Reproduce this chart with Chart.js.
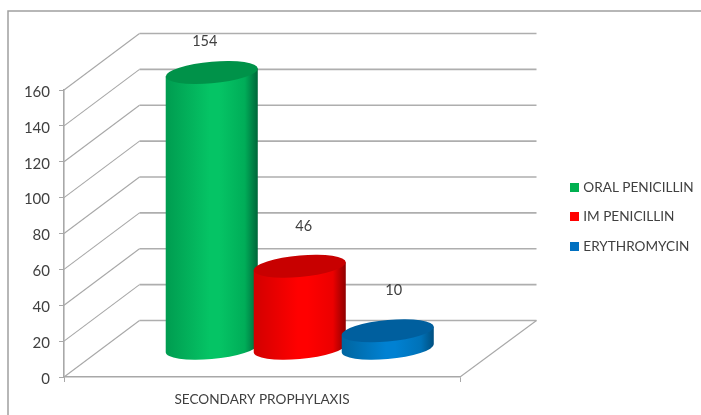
<!DOCTYPE html>
<html>
<head>
<meta charset="utf-8">
<style>html,body{margin:0;padding:0;background:#fff}#w{width:701px;height:415px}</style>
<script src="https://cdn.jsdelivr.net/npm/chart.js@4"></script>
</head>
<body>
<div id="w"><canvas id="c"></canvas></div>
<script>
const categories = ["SECONDARY PROPHYLAXIS"];
const seriesNames = ["ORAL PENICILLIN", "IM PENICILLIN", "ERYTHROMYCIN"];
const oralPenicillin = [154];
const imPenicillin = [46];
const erythromycin = [10];
const yTicks = [0, 20, 40, 60, 80, 100, 120, 140, 160];

const FONT = 'Lato';
const TEXT = '#404040';
const GRID = '#a8a8a8';
const DEPTH = {x: 75.5, y: 56.5};
const looks = [
  {base:'#00b050', top:'#009249', stops:['#009c50','#05c465','#00ad58','#00663a']},
  {base:'#ff0000', top:'#c80000', stops:['#d20000','#ff0000','#ec0000','#8f0000']},
  {base:'#0070c0', top:'#005f9e', stops:['#00659f','#0081d2','#0072b8','#004f80']}
];
const labelNudge = [{x:-7,y:1},{x:4,y:0},{x:6,y:0}];

function swatch(color){
  const s = document.createElement('canvas');
  s.width = 9; s.height = 9;
  const g = s.getContext('2d');
  g.fillStyle = color; g.fillRect(0,0,9,9);
  return s;
}

const threeD = {
  id:'threeD',
  beforeDraw(chart){
    const c = chart.ctx;
    c.save();
    c.fillStyle='#fff'; c.fillRect(0,0,chart.width,chart.height);
    c.strokeStyle='#a0a0a0'; c.lineWidth=1.5;
    c.beginPath(); c.moveTo(8,chart.height); c.lineTo(8,11); c.lineTo(chart.width,11); c.stroke();
    c.restore();
  },
  afterLayout(chart){
    const l = chart.legend;
    l.left=556.5; l.right=701; l.top=164.5; l.bottom=290;
  },
  beforeDatasetsDraw(chart){
    const c = chart.ctx, y = chart.scales.y, x = chart.scales.x;
    c.save();
    yTicks.forEach(v=>{
      const py = y.getPixelForValue(v);
      c.strokeStyle=GRID; c.lineWidth=1.1;
      c.beginPath(); c.moveTo(x.left,py); c.lineTo(x.left+DEPTH.x,py-DEPTH.y); c.stroke();
      c.lineWidth=1.6; c.strokeStyle='#aeaeae';
      c.beginPath(); c.moveTo(x.left+DEPTH.x,py-DEPTH.y); c.lineTo(x.right+DEPTH.x+1,py-DEPTH.y); c.stroke();
    });
    const p0 = y.getPixelForValue(0);
    c.strokeStyle=GRID; c.lineWidth=1.1;
    c.beginPath(); c.moveTo(x.right,p0); c.lineTo(x.right+DEPTH.x+1,p0-DEPTH.y); c.stroke();
    c.restore();
  },
  beforeDatasetDraw(){ return false; },
  afterDatasetsDraw(chart){
    const c = chart.ctx;
    const tilt = -4;
    chart.data.datasets.forEach((ds,i)=>{
      chart.getDatasetMeta(i).data.forEach(bar=>{
        const a = bar.width*0.523, b = 10.8, k = tilt/46;
        const cx = bar.x + DEPTH.x/2;
        const top = bar.y - DEPTH.y/2, bot = bar.base - DEPTH.y/2;
        const lk = looks[i];
        const g = c.createLinearGradient(cx-a,0,cx+a,0);
        g.addColorStop(0,lk.stops[0]); g.addColorStop(0.48,lk.stops[1]); g.addColorStop(0.58,lk.stops[1]);
        g.addColorStop(0.86,lk.stops[2]); g.addColorStop(1,lk.stops[3]);
        c.save();
        c.beginPath();
        c.save();
        c.translate(cx,bot); c.transform(1,k,0,1,0,0);
        c.ellipse(0,0,a,b,0,0,Math.PI);
        c.restore();
        c.lineTo(cx-a,top-k*a);
        c.lineTo(cx+a,top+k*a);
        c.closePath();
        c.fillStyle=g;
        c.fill();
        c.beginPath();
        c.save();
        c.translate(cx,top); c.transform(1,k,0,1,0,0);
        c.ellipse(0,0,a,b,0,0,Math.PI*2);
        c.restore();
        c.fillStyle=lk.top;
        c.fill();
        c.font='14.5px '+FONT; c.fillStyle=TEXT; c.textAlign='center'; c.textBaseline='middle';
        c.fillText(String(ds.data[0]),cx+labelNudge[i].x,Math.max(top-40,40)+labelNudge[i].y);
        c.restore();
      });
    });
  }
};

new Chart(document.getElementById('c'),{
  type:'bar',
  data:{
    labels:categories,
    datasets:[
      {label:seriesNames[0],data:oralPenicillin,backgroundColor:looks[0].base,pointStyle:swatch(looks[0].base)},
      {label:seriesNames[1],data:imPenicillin,backgroundColor:looks[1].base,pointStyle:swatch(looks[1].base)},
      {label:seriesNames[2],data:erythromycin,backgroundColor:looks[2].base,pointStyle:swatch(looks[2].base)}
    ]
  },
  plugins:[threeD],
  options:{
    responsive:true,maintainAspectRatio:false,animation:false,
    layout:{padding:{top:90,right:241,bottom:0,left:0}},
    datasets:{bar:{barPercentage:1,categoryPercentage:2/3}},
    plugins:{
      tooltip:{enabled:false},
      legend:{
        position:'chartArea',align:'start',
        labels:{usePointStyle:true,boxWidth:4,boxHeight:9,padding:16,color:TEXT,font:{family:FONT,size:13.6}}
      }
    },
    scales:{
      x:{
        afterFit(s){s.height=38;},
        grid:{display:true,drawOnChartArea:false,tickLength:5,color:GRID},
        border:{color:GRID,width:1.6},
        ticks:{color:TEXT,padding:9,font:{family:FONT,size:13.6},maxRotation:0}
      },
      y:{
        min:0,max:160,
        afterFit(s){s.width=64;},
        grid:{display:true,drawOnChartArea:false,tickLength:5,color:GRID},
        border:{color:GRID,width:1.6},
        ticks:{stepSize:20,color:TEXT,padding:9,labelOffset:2,font:{family:FONT,size:15},callback:v=>yTicks.includes(v)?String(v):''}
      }
    }
  }
});
</script>
</body>
</html>
